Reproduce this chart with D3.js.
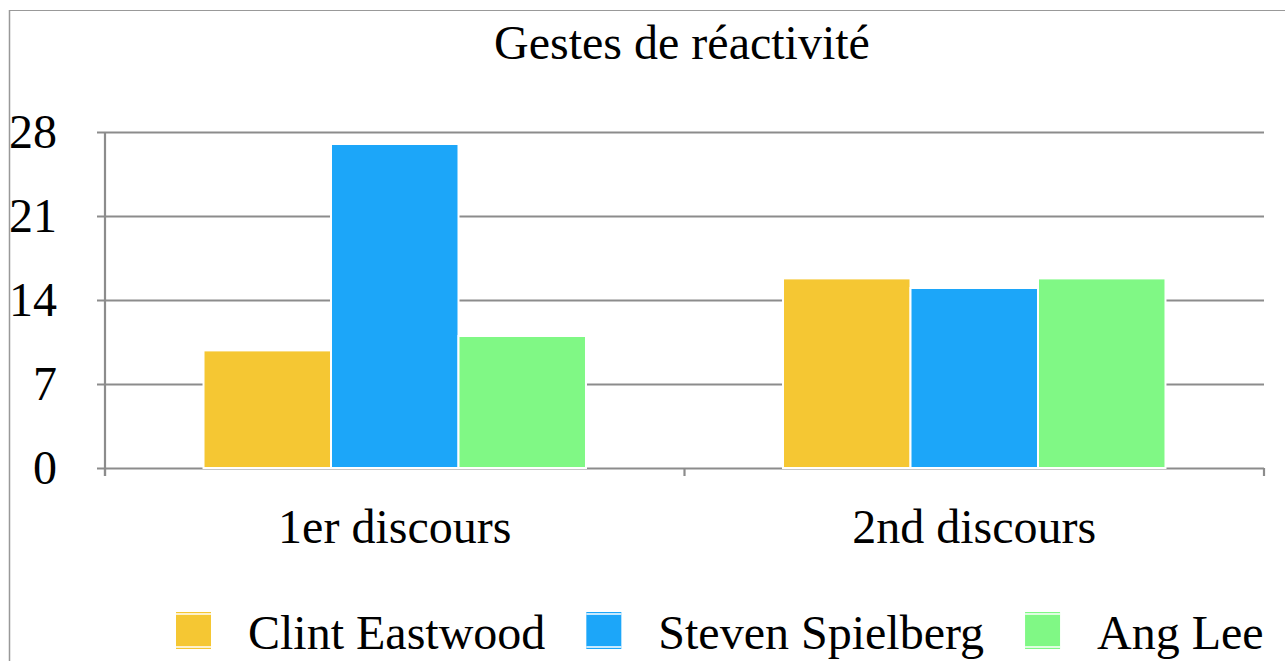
<!DOCTYPE html>
<html>
<head>
<meta charset="utf-8">
<script src="https://cdn.jsdelivr.net/npm/d3@7"></script>
<style>
    body { margin: 0; background: #fff; }
    text { font-family: "Liberation Serif", "Times New Roman", serif; fill: #000; }
</style>
</head>
<body>
<div class="chart"></div>
<script>
// data
var categories = ["1er discours", "2nd discours"];
var seriesNames = ["Clint Eastwood", "Steven Spielberg", "Ang Lee"];
var clintValues = [9.8, 15.8];
var spielbergValues = [27, 15];
var angLeeValues = [11, 15.8];
var yTicks = [0, 7, 14, 21, 28];
var colors = ["#f5c733", "#1ca6f9", "#80f885"];

var seriesValues = [clintValues, spielbergValues, angLeeValues];

var width = 1285,
    height = 661,
    plotLeft = 105,
    plotRight = 1264,
    plotTop = 132,
    plotBottom = 468;

var svg = d3.select(".chart").append("svg")
    .attr("width", width)
    .attr("height", height);

// outer frame (only top and left edges show)
svg.append("line")
    .attr("x1", 9).attr("x2", width).attr("y1", 10.5).attr("y2", 10.5)
    .attr("stroke", "#999").attr("stroke-width", 1.2);
svg.append("line")
    .attr("x1", 9.5).attr("x2", 9.5).attr("y1", 10).attr("y2", height)
    .attr("stroke", "#999").attr("stroke-width", 1.5);

// title
svg.append("text")
    .attr("x", 682)
    .attr("y", 59)
    .attr("text-anchor", "middle")
    .style("font-size", "48px")
    .text("Gestes de réactivité");

var y = d3.scaleLinear()
    .domain([0, 28])
    .range([plotBottom, plotTop]);

var x0 = d3.scaleBand()
    .domain(categories)
    .range([plotLeft, plotRight])
    .paddingInner(0.34)
    .paddingOuter(0.17);

var x1 = d3.scaleBand()
    .domain(seriesNames)
    .range([0, x0.bandwidth()]);

// gridlines + y labels
var yAxis = d3.axisLeft(y)
    .tickValues(yTicks)
    .tickSize(-(plotRight - plotLeft) - 8)
    .tickFormat(d3.format("d"));

var gy = svg.append("g")
    .attr("transform", "translate(" + (plotLeft - 8) + ",0)")
    .call(yAxis);
gy.select(".domain").remove();
gy.selectAll(".tick line")
    .attr("stroke", "#8c8c8c")
    .attr("stroke-width", 2.2);
gy.selectAll(".tick text")
    .attr("x", -40)
    .attr("dy", "0.33em")
    .style("font-size", "48px")
    .style("font-family", "'Liberation Serif', 'Times New Roman', serif");

// left axis line
svg.append("line")
    .attr("x1", plotLeft).attr("x2", plotLeft)
    .attr("y1", plotTop).attr("y2", plotBottom + 8)
    .attr("stroke", "#8c8c8c").attr("stroke-width", 2.2);

// category tick marks at band boundaries
var step = x0.step();
var boundaries = [plotLeft, plotLeft + step, plotRight];
svg.selectAll(".cat-tick")
    .data(boundaries)
    .enter().append("line")
    .attr("class", "cat-tick")
    .attr("x1", function(d) { return d; })
    .attr("x2", function(d) { return d; })
    .attr("y1", plotBottom)
    .attr("y2", plotBottom + 8)
    .attr("stroke", "#8c8c8c")
    .attr("stroke-width", 2.2);

// bars
var groups = svg.selectAll(".group")
    .data(categories)
    .enter().append("g")
    .attr("class", "group")
    .attr("transform", function(d) { return "translate(" + x0(d) + ",0)"; });

groups.selectAll("rect")
    .data(function(d, ci) {
        return seriesNames.map(function(name, si) {
            return { name: name, value: seriesValues[si][ci], color: colors[si] };
        });
    })
    .enter().append("rect")
    .attr("x", function(d) { return x1(d.name); })
    .attr("y", function(d) { return y(d.value); })
    .attr("width", x1.bandwidth())
    .attr("height", function(d) { return y(0) - y(d.value); })
    .attr("fill", function(d) { return d.color; })
    .attr("stroke", "#fff")
    .attr("stroke-width", 2);

// category labels
svg.selectAll(".cat-label")
    .data(categories)
    .enter().append("text")
    .attr("class", "cat-label")
    .attr("x", function(d) { return x0(d) + x0.bandwidth() / 2; })
    .attr("y", 543)
    .attr("text-anchor", "middle")
    .style("font-size", "48px")
    .text(function(d) { return d; });

// legend (kept just inside the bottom edge)
var legendBase = 649;
var legend = svg.append("g").attr("class", "legend");
var lx = 176;
seriesNames.forEach(function(name, i) {
    var item = legend.append("g");
    item.append("rect")
        .attr("x", lx).attr("y", legendBase - 37)
        .attr("width", 35).attr("height", 37)
        .attr("fill", colors[i]);
    // thin white inner lines near top and bottom of the swatch
    item.append("line")
        .attr("x1", lx).attr("x2", lx + 35)
        .attr("y1", legendBase - 35).attr("y2", legendBase - 35)
        .attr("stroke", "#fff").attr("stroke-width", 1.5);
    item.append("line")
        .attr("x1", lx).attr("x2", lx + 35)
        .attr("y1", legendBase - 2).attr("y2", legendBase - 2)
        .attr("stroke", "#fff").attr("stroke-width", 1.5);
    var t = item.append("text")
        .attr("x", lx + 72)
        .attr("y", legendBase)
        .style("font-size", "48px")
        .text(name);
    lx = lx + 72 + t.node().getComputedTextLength() + 41;
});
</script>
</body>
</html>
